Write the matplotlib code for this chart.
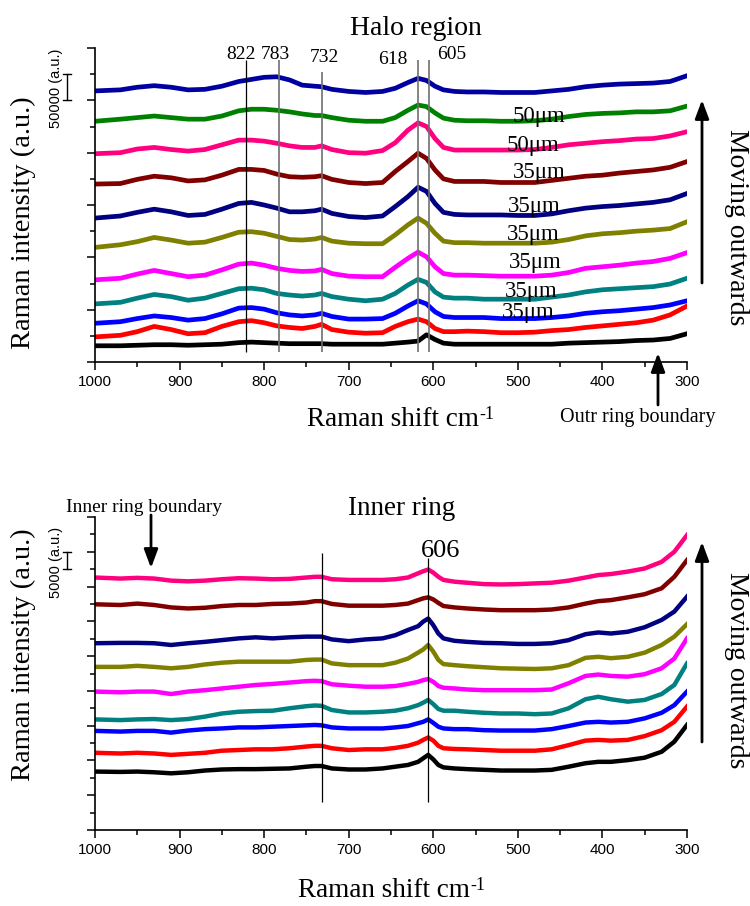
import matplotlib
matplotlib.use("Agg")
import matplotlib.pyplot as plt
import matplotlib.transforms as mtransforms
from matplotlib.patches import FancyArrowPatch
from matplotlib.ticker import MultipleLocator, NullFormatter

plt.rcParams["font.family"] = "Liberation Serif"

# Raman shift grids (cm-1)
x_halo = [1000, 970, 950, 930, 910, 890, 870, 850, 830, 815, 800, 785, 770, 755,
          740, 732, 720, 700, 680, 660, 645, 630, 618, 608, 598, 588, 575, 560,
          540, 520, 500, 480, 460, 440, 420, 400, 380, 360, 340, 320, 300]
x_inner = [1000, 970, 950, 930, 910, 890, 870, 850, 830, 810, 790, 770, 750, 740,
           732, 720, 700, 680, 660, 645, 630, 618, 612, 606, 600, 594, 588, 575,
           560, 540, 520, 500, 480, 460, 440, 420, 405, 390, 370, 350, 330, 315, 300]

# Halo region spectra, stacked, in 10^3 a.u. (bottom to top)
halo_1 = [31, 31, 32, 33, 33, 32, 33, 34, 37, 38, 37, 36, 35, 35, 35, 35, 34, 34, 34, 34,
          36, 38, 40, 52, 43, 36, 34, 34, 34, 34, 34, 34, 34, 36, 37, 38, 39, 41, 42, 45, 54]
halo_2 = [48, 51, 58, 68, 62, 54, 56, 68, 77, 79, 75, 69, 66, 64, 68, 72, 62, 57, 55, 56,
          68, 77, 82, 77, 64, 58, 58, 59, 58, 56, 56, 57, 60, 62, 66, 69, 72, 75, 80, 90, 107]
halo_3 = [74, 77, 83, 88, 85, 80, 83, 92, 103, 104, 101, 94, 90, 88, 90, 93, 87, 82, 82, 83,
          93, 107, 117, 111, 96, 87, 85, 85, 85, 83, 83, 83, 85, 88, 93, 96, 98, 101, 104, 109, 117]
halo_4 = [111, 114, 122, 129, 125, 118, 122, 131, 140, 141, 138, 131, 128, 126, 128, 131, 125, 120, 117, 120,
          131, 147, 158, 152, 134, 124, 122, 122, 120, 120, 120, 120, 124, 128, 134, 138, 140, 142, 144, 149, 160]
halo_5 = [157, 160, 168, 175, 169, 163, 166, 176, 187, 189, 185, 179, 175, 173, 174, 177, 169, 164, 163, 163,
          181, 198, 210, 201, 182, 169, 166, 166, 165, 164, 164, 164, 166, 171, 179, 182, 185, 189, 192, 198, 209]
halo_6 = [219, 224, 230, 238, 233, 227, 229, 238, 248, 249, 246, 240, 234, 233, 235, 238, 231, 227, 226, 226,
          243, 262, 275, 265, 246, 231, 228, 228, 227, 227, 227, 227, 229, 234, 241, 245, 247, 250, 252, 255, 268]
halo_7 = [275, 279, 286, 292, 287, 280, 282, 292, 303, 305, 300, 294, 287, 287, 289, 292, 284, 278, 276, 279,
          297, 316, 334, 326, 303, 286, 282, 281, 281, 281, 280, 280, 283, 289, 294, 297, 299, 302, 305, 310, 322]
halo_8 = [340, 341, 349, 355, 352, 346, 348, 357, 368, 368, 366, 359, 354, 353, 354, 356, 349, 343, 341, 343,
          364, 383, 399, 389, 367, 350, 345, 345, 345, 343, 343, 343, 347, 351, 355, 357, 361, 364, 367, 372, 383]
halo_9 = [398, 400, 407, 410, 406, 403, 406, 415, 424, 424, 422, 418, 413, 410, 410, 413, 406, 400, 399, 404,
          419, 443, 457, 450, 427, 410, 405, 405, 405, 405, 405, 406, 410, 415, 418, 421, 423, 426, 427, 432, 440]
halo_10 = [460, 464, 467, 470, 467, 464, 464, 470, 480, 483, 483, 481, 478, 474, 471, 471, 467, 462, 460, 460,
           467, 481, 491, 488, 476, 466, 462, 461, 461, 460, 460, 461, 464, 469, 473, 475, 476, 478, 478, 480, 489]
halo_11 = [518, 520, 525, 528, 525, 520, 521, 527, 536, 540, 544, 545, 539, 529, 527, 526, 521, 517, 515, 517,
           523, 534, 542, 538, 527, 520, 517, 516, 516, 515, 515, 515, 518, 521, 526, 529, 531, 532, 533, 536, 547]

# Inner ring spectra, stacked, in 10^3 a.u. (bottom to top)
inner_1 = [16.8, 16.7, 16.8, 16.6, 16.3, 16.6, 17.1, 17.4, 17.5, 17.5, 17.6, 17.7, 18.2, 18.4, 18.4, 17.7, 17.4, 17.4, 17.7,
           18.2, 18.7, 19.6, 20.6, 21.6, 20.3, 18.7, 18.0, 17.7, 17.5, 17.3, 17.1, 17.1, 17.1, 17.3, 18.2, 19.2, 19.6, 19.6, 20.1, 20.8, 22.5, 25.4, 30.2]
inner_2 = [22.2, 22.0, 22.2, 22.0, 21.6, 21.9, 22.2, 22.8, 23.0, 23.2, 23.2, 23.5, 24.0, 24.2, 24.2, 23.5, 23.0, 23.2, 23.2,
           23.6, 24.2, 25.1, 25.9, 26.6, 25.7, 24.2, 23.5, 23.3, 23.2, 23.0, 22.8, 22.8, 22.8, 23.2, 24.4, 25.7, 25.9, 25.7, 25.9, 27.0, 28.7, 31.1, 35.5]
inner_3 = [28.5, 28.3, 28.5, 28.5, 28.0, 28.6, 29.0, 29.2, 29.5, 29.5, 29.7, 29.9, 30.1, 30.2, 30.1, 29.5, 29.2, 29.2, 29.2,
           29.5, 29.9, 30.7, 31.1, 31.8, 30.8, 29.7, 29.2, 29.0, 29.0, 28.7, 28.6, 28.6, 28.6, 29.0, 29.9, 30.9, 31.1, 30.9, 31.1, 32.1, 33.7, 35.9, 39.8]
inner_4 = [31.8, 31.6, 31.8, 31.9, 31.6, 31.9, 32.6, 33.5, 34.0, 34.2, 34.3, 35.0, 35.6, 35.8, 35.7, 34.5, 33.8, 33.8, 34.0,
           34.3, 35.0, 35.9, 36.6, 37.4, 36.2, 34.8, 34.3, 34.3, 34.0, 33.7, 33.5, 33.5, 33.3, 33.5, 35.0, 37.6, 38.3, 37.6, 36.9, 37.4, 39.1, 41.7, 47.9]
inner_5 = [39.8, 39.6, 39.8, 39.8, 39.1, 39.8, 40.2, 40.7, 41.2, 41.7, 42.0, 42.4, 42.8, 42.9, 42.8, 41.9, 41.5, 41.2, 41.2,
           41.4, 42.0, 42.6, 43.1, 43.4, 42.6, 41.4, 40.9, 40.7, 40.4, 40.2, 40.2, 40.2, 40.2, 40.4, 42.2, 44.3, 44.7, 44.3, 44.1, 44.8, 46.5, 49.3, 55.1]
inner_6 = [46.9, 46.9, 47.2, 46.9, 46.5, 46.9, 47.6, 48.1, 48.4, 48.4, 48.4, 48.4, 48.9, 49.0, 49.0, 47.9, 47.4, 47.4, 47.4,
           48.1, 49.3, 51.0, 51.9, 53.2, 51.3, 48.9, 47.7, 47.4, 47.1, 46.8, 46.5, 46.4, 46.3, 46.5, 47.4, 49.5, 49.8, 49.4, 49.8, 51.0, 53.2, 55.6, 59.2]
inner_7 = [53.7, 53.8, 53.8, 53.7, 53.2, 53.7, 54.1, 54.6, 55.1, 55.4, 55.1, 55.4, 55.6, 55.6, 55.6, 54.8, 54.3, 54.8, 55.1,
           56.0, 57.5, 58.6, 59.9, 60.8, 58.9, 56.5, 55.1, 54.4, 54.1, 53.8, 53.7, 53.5, 53.5, 53.7, 54.6, 56.3, 56.8, 56.5, 57.0, 58.3, 60.4, 62.8, 67.1]
inner_8 = [64.9, 64.7, 65.1, 64.7, 64.0, 63.7, 63.9, 64.4, 64.7, 64.7, 65.0, 65.1, 65.4, 65.8, 65.8, 65.0, 64.5, 64.5, 64.5,
           64.7, 65.1, 66.1, 66.6, 66.9, 66.3, 65.3, 64.4, 64.0, 63.7, 63.4, 63.2, 63.2, 63.2, 63.4, 64.0, 65.1, 65.8, 66.1, 66.9, 67.8, 69.5, 72.8, 77.6]
inner_9 = [72.6, 72.3, 72.5, 72.3, 71.7, 71.5, 71.7, 72.1, 72.4, 72.3, 72.1, 72.2, 72.6, 72.8, 72.8, 72.1, 71.9, 71.9, 71.9,
           72.1, 72.6, 73.8, 74.4, 74.9, 74.0, 72.8, 71.9, 71.4, 71.1, 70.7, 70.6, 70.7, 70.9, 71.1, 71.7, 72.6, 73.3, 73.6, 74.3, 75.2, 77.1, 80.0, 84.8]

colors = ["#000000", "#FF0000", "#0000FF", "#008080", "#FF00FF", "#808000",
          "#000080", "#800000", "#FF0080", "#008000", "#0000A0"]

halo_peaks = [822, 783, 732, 618, 605]
halo_peak_colors = ["black", "#707070", "#707070", "#707070", "#707070"]
inner_peaks = [732, 606]

# step size labels between halo spectra
step_labels = ["50\u03bcm", "50\u03bcm", "35\u03bcm", "35\u03bcm", "35\u03bcm", "35\u03bcm", "35\u03bcm", "35\u03bcm"]
step_x = [475, 482, 475, 481, 482, 480, 484, 488]
step_y = [459, 403, 352, 287, 233, 180, 124, 84]

halo = [halo_1, halo_2, halo_3, halo_4, halo_5, halo_6, halo_7, halo_8, halo_9, halo_10, halo_11]
inner = [inner_1, inner_2, inner_3, inner_4, inner_5, inner_6, inner_7, inner_8, inner_9]

W, H = 750, 906
fig = plt.figure(figsize=(7.5, 9.06), dpi=100)
ax1 = fig.add_axes([95 / W, 1 - 362 / H, 592 / W, 314 / H])
ax2 = fig.add_axes([95 / W, 1 - 830 / H, 592 / W, 313 / H])


def style_axes(ax, ymax, major, minor):
    ax.set_xlim(1000, 300)
    ax.set_ylim(0, ymax)
    ax.patch.set_visible(False)
    ax.spines["top"].set_visible(False)
    ax.spines["right"].set_visible(False)
    for s in ["left", "bottom"]:
        ax.spines[s].set_linewidth(1.2)
    ax.xaxis.set_major_locator(MultipleLocator(100))
    ax.xaxis.set_minor_locator(MultipleLocator(50))
    ax.yaxis.set_major_locator(MultipleLocator(major))
    ax.yaxis.set_minor_locator(MultipleLocator(minor))
    ax.yaxis.set_major_formatter(NullFormatter())
    ax.tick_params(which="major", direction="out", length=6, width=1.1,
                   labelsize=11, pad=3, labelfontfamily="Liberation Sans")
    ax.tick_params(which="minor", direction="out", length=3.5, width=1.1)


def scale_bar(ax, y0, size, label, ypix):
    # intensity scale bar left of the axis
    trans = mtransforms.blended_transform_factory(ax.transAxes, ax.transData)
    xb = -28 / 592
    kw = dict(transform=trans, clip_on=False, color="black", lw=1)
    ax.plot([xb, xb], [y0, y0 + size], **kw)
    ax.plot([xb - 0.007, xb + 0.007], [y0, y0], **kw)
    ax.plot([xb - 0.007, xb + 0.007], [y0 + size, y0 + size], **kw)
    fig.text(56 / W, 1 - ypix / H, label, rotation=90, ha="center", va="center",
             fontsize=10.5, family="Liberation Sans")


# Halo region
style_axes(ax1, 600, 100, 50)
for y, c in zip(halo, colors):
    ax1.plot(x_halo, y, color=c, lw=3.4, solid_joinstyle="round", zorder=2)
for p, c in zip(halo_peaks, halo_peak_colors):
    ax1.vlines(p, 19, 577 if p != 732 else 555, color=c,
               lw=0.9 if c == "black" else 1.2, zorder=3)
for lab, px, py in zip(["822", "783", "732", "618", "605"],
                       [827, 787, 729, 648, 578], [579, 579, 573, 569, 579]):
    ax1.text(px, py, lab, ha="center", va="baseline", fontsize=14)
for lab, px, py in zip(step_labels, step_x, step_y):
    ax1.text(px, py, lab, ha="center", va="baseline", fontsize=16.5)
scale_bar(ax1, 500, 50, "50000 (a.u.)", 88)

# Inner ring
style_axes(ax2, 90, 10, 5)
for y, c in zip(inner, colors):
    ax2.plot(x_inner, y, color=c, lw=3.2, solid_joinstyle="round", zorder=2)
ax2.vlines(inner_peaks, 8, [79.6, 78.2], color="black", lw=0.9, zorder=3)
ax2.text(591, 78.5, "606", ha="center", va="baseline", fontsize=19)
scale_bar(ax2, 75, 5, "5000 (a.u.)", 562)

# Titles and axis labels
fig.text(416 / W, 871 / H, "Halo region", ha="center", va="baseline", fontsize=20)
fig.text(402 / W, 391 / H, "Inner ring", ha="center", va="baseline", fontsize=19.5)
for yc in [683, 251]:
    fig.text(23 / W, yc / H, "Raman intensity (a.u.)", rotation=90,
             ha="center", va="center", fontsize=20.5)
for xc, yb in [(393, 480), (384, 9)]:
    base = fig.text(xc / W, yb / H, "Raman shift cm", ha="center", va="baseline", fontsize=19.5)
    ax1.annotate("-1", xy=(1.0, 1.02), xycoords=base, ha="left", va="top",
                 fontsize=13, annotation_clip=False)

# Side arrows and annotations
for x0, y0, x1, y1 in [(702, 623, 702, 806), (702, 164, 702, 364),
                       (658, 501, 658, 553), (151, 391, 151, 338)]:
    fig.add_artist(FancyArrowPatch((x0 / W, y0 / H), (x1 / W, y1 / H),
                                   transform=fig.transFigure,
                                   arrowstyle="-|>,head_length=0.8,head_width=0.3",
                                   lw=2, color="black", mutation_scale=14,
                                   shrinkA=0, shrinkB=0))
for yc in [679, 236]:
    fig.text(737 / W, yc / H, "Moving outwards", rotation=270,
             ha="center", va="center", fontsize=20)
fig.text(638 / W, 484 / H, "Outr ring boundary", ha="center", va="baseline", fontsize=14.5)
fig.text(144 / W, 394 / H, "Inner ring boundary", ha="center", va="baseline", fontsize=14)

fig.savefig("out.png", dpi=100)
